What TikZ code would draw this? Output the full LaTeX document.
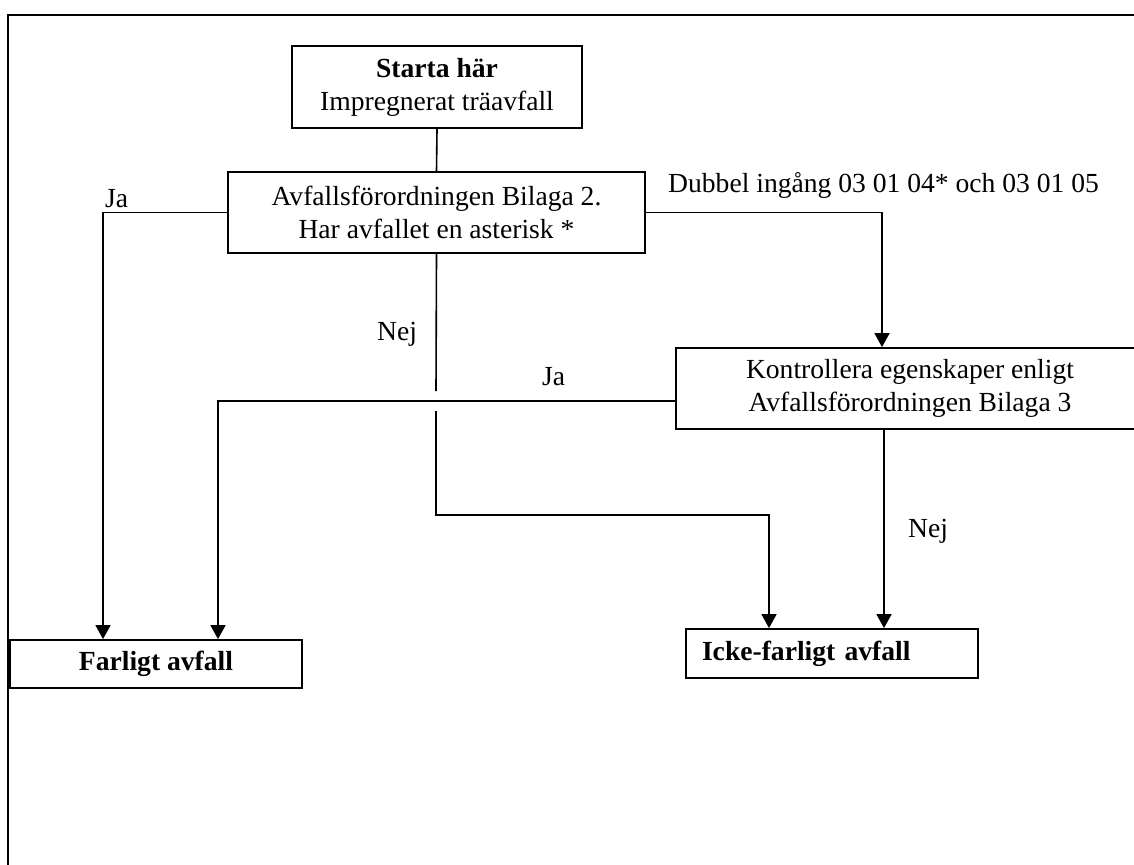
\documentclass[tikz,border=0pt]{standalone}
\usepackage{fontspec}
\setmainfont{Liberation Serif}
\usetikzlibrary{arrows.meta}
\begin{document}
\begin{tikzpicture}[x=1pt,y=-1pt,
  every node/.style={font=\fontsize{27.6}{33}\selectfont},
  box/.style={draw,line width=1.8pt,inner sep=0pt,align=center,anchor=center},
  lbl/.style={inner sep=0pt,anchor=base west},
  conn/.style={line width=1.6pt},
  arr/.style={conn,-{Triangle[width=15pt,length=14pt]}}]
\useasboundingbox (0,0) rectangle (1134,864);
\clip (0,0) rectangle (1134,864);
\draw[line width=2.5pt] (8,880) -- (8,15) -- (1160,15);
\node[box,minimum width=290pt,minimum height=82pt] (start) at (437,87)
  {\textbf{Starta här}\\Impregnerat träavfall};
\node[box,minimum width=417pt,minimum height=81pt] (avf) at (436.5,212.5)
  {Avfallsförordningen Bilaga 2.\\Har avfallet en asterisk *};
\node[box,minimum width=468pt,minimum height=81pt] (kontr) at (910,388.5)
  {Kontrollera egenskaper enligt\\Avfallsförordningen Bilaga 3};
\node[box,minimum width=292pt,minimum height=48pt] (farligt) at (156,664)
  {\textbf{Farligt avfall}};
\node[box,text width=260pt,inner xsep=16pt,align=left,minimum height=49pt] (icke) at (832,653.5)
  {\textbf{Icke-farligt avfall}};
\coordinate (g1) at (436,391);
\coordinate (g2) at (436,411);
\coordinate (g3) at (436,515);
\draw[conn] (start.south) -- (avf.north);
\draw[arr] (avf.west) -| ([xshift=-53pt]farligt.north);
\draw[arr] (avf.east) -| ([xshift=-28pt]kontr.north);
\draw[arr] ([yshift=-12.5pt]kontr.west) -| ([xshift=62pt]farligt.north);
\draw[arr] ([xshift=-26pt]kontr.south) -- ([xshift=52pt]icke.north);
\draw[conn] (avf.south) -- (g1);
\draw[arr] (g2) -- (g3) -| ([xshift=-63pt]icke.north);
\node[lbl] (ja1) at (105,207) {Ja};
\node[lbl] (nej1) at (377,340) {Nej};
\node[lbl] (ja2) at (542,385) {Ja};
\node[lbl] (dub) at (668,192) {Dubbel ingång 03 01 04* och 03 01 05};
\node[lbl] (nej2) at (908,537) {Nej};
\end{tikzpicture}
\end{document}
